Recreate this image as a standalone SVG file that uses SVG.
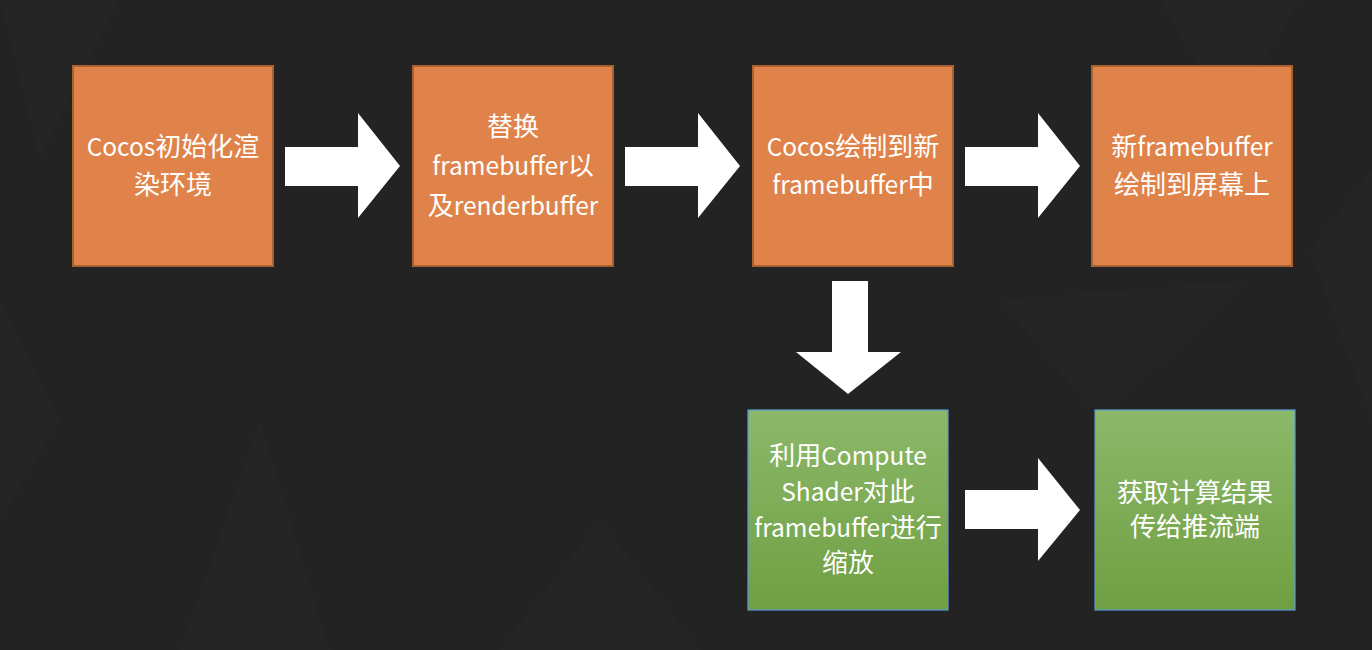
<svg xmlns="http://www.w3.org/2000/svg" width="1372" height="650" viewBox="0 0 1372 650">
<defs>
<linearGradient id="gg" x1="0" y1="0" x2="0" y2="1">
<stop offset="0" stop-color="#8cb86a"/>
<stop offset="1" stop-color="#6f9f42"/>
</linearGradient>
<style>
.o{fill:#e0834a;stroke:#a8612f;stroke-width:2}
.g{fill:url(#gg);stroke:#5b9bd5;stroke-width:1.2}
.t{font-family:"Noto Sans CJK SC","Noto Sans",sans-serif;font-size:24.5px;fill:#ffffff;text-anchor:middle}
.c{font-size:26px}
.a{fill:#ffffff}
.bg{fill:#2a2a2a;opacity:0.3}
</style>
</defs>
<rect width="1372" height="650" fill="#232323"/>
<g id="background">
<polygon class="bg" points="0,0 120,0 40,160"/>
<polygon class="bg" points="0,300 60,420 0,520"/>
<polygon class="bg" points="180,650 260,420 330,650"/>
<polygon class="bg" points="1160,0 1300,0 1230,120"/>
<polygon class="bg" points="1310,250 1372,170 1372,420"/>
<polygon class="bg" points="1000,300 1250,280 1100,420"/>
<polygon class="bg" points="500,650 600,520 700,650"/>
</g>
<g id="connectors">
<polygon class="a" points="285,147 358,147 358,113 400,166 358,218 358,186 285,186"/>
<polygon class="a" points="625,147 698,147 698,113 740,166 698,218 698,186 625,186"/>
<polygon class="a" points="965,147 1038,147 1038,113 1080,166 1038,218 1038,186 965,186"/>
<polygon class="a" points="832,281 868,281 868,352 901,352 848,394 796,352 832,352"/>
<polygon class="a" points="965,490 1038,490 1038,458 1080,510 1038,561 1038,529 965,529"/>
</g>
<g id="n1">
<rect class="o" x="73" y="66" width="200" height="200"/>
<text class="t" x="173" y="156">Cocos<tspan class="c">初始化渲</tspan></text>
<text class="t" x="173" y="194"><tspan class="c">染环境</tspan></text>
</g>
<g id="n2">
<rect class="o" x="413" y="66" width="200" height="200"/>
<text class="t" x="513" y="136"><tspan class="c">替换</tspan></text>
<text class="t" x="513" y="175">framebuffer<tspan class="c">以</tspan></text>
<text class="t" x="513" y="215"><tspan class="c">及</tspan>renderbuffer</text>
</g>
<g id="n3">
<rect class="o" x="753" y="66" width="200" height="200"/>
<text class="t" x="853" y="156">Cocos<tspan class="c">绘制到新</tspan></text>
<text class="t" x="853" y="194">framebuffer<tspan class="c">中</tspan></text>
</g>
<g id="n4">
<rect class="o" x="1092" y="66" width="200" height="200"/>
<text class="t" x="1192" y="156"><tspan class="c">新</tspan>framebuffer</text>
<text class="t" x="1192" y="194"><tspan class="c">绘制到屏幕上</tspan></text>
</g>
<g id="n5">
<rect class="g" x="748" y="410" width="200" height="200"/>
<text class="t" x="848" y="465"><tspan class="c">利用</tspan>Compute</text>
<text class="t" x="848" y="501">Shader<tspan class="c">对此</tspan></text>
<text class="t" x="848" y="537">framebuffer<tspan class="c">进行</tspan></text>
<text class="t" x="848" y="572"><tspan class="c">缩放</tspan></text>
</g>
<g id="n6">
<rect class="g" x="1095" y="410" width="200" height="200"/>
<text class="t" x="1195" y="502"><tspan class="c">获取计算结果</tspan></text>
<text class="t" x="1195" y="536"><tspan class="c">传给推流端</tspan></text>
</g>
</svg>
